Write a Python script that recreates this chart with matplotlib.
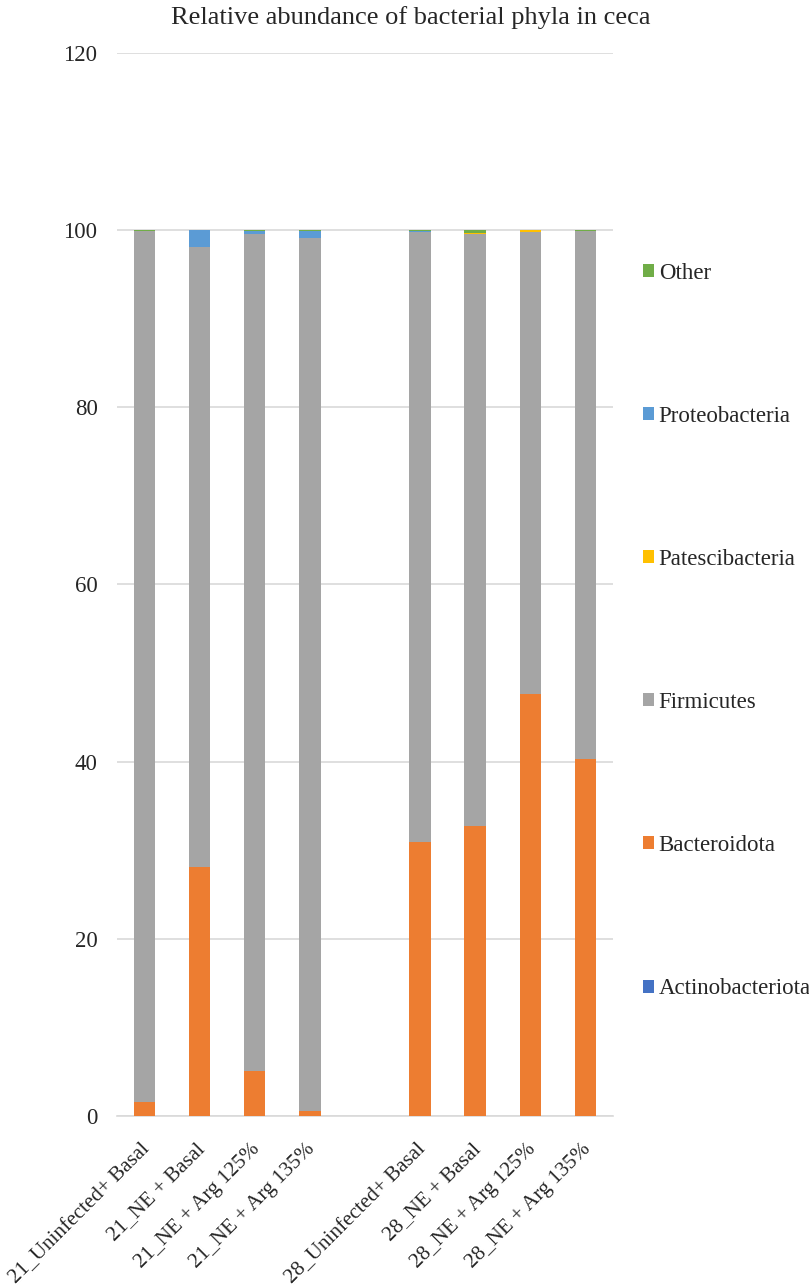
import numpy as np
import matplotlib
matplotlib.use("Agg")
import matplotlib.pyplot as plt
import matplotlib.transforms as mtransforms

plt.rcParams['font.family'] = ['Liberation Serif', 'DejaVu Serif']

# categories (blank slot = gap between day 21 and day 28)
groups = ['21_Uninfected+ Basal', '21_NE + Basal', '21_NE + Arg 125%', '21_NE + Arg 135%', '',
          '28_Uninfected+ Basal', '28_NE + Basal', '28_NE + Arg 125%', '28_NE + Arg 135%']

# relative abundance (%) per phylum
actinobacteriota = [0.05, 0.02, 0.02, 0.01, 0, 0.02, 0.03, 0.02, 0.02]
bacteroidota     = [1.5, 28.1, 5.1, 0.6, 0, 30.9, 32.7, 47.6, 40.3]
firmicutes       = [98.3, 70.0, 94.5, 98.5, 0, 68.88, 66.8, 52.2, 59.55]
patescibacteria  = [0.0, 0.0, 0.0, 0.0, 0, 0.02, 0.12, 0.15, 0.03]
proteobacteria   = [0.05, 1.85, 0.33, 0.85, 0, 0.03, 0.05, 0.01, 0.02]
other            = [0.1, 0.03, 0.05, 0.04, 0, 0.15, 0.3, 0.02, 0.08]

series = [('Actinobacteriota', actinobacteriota, '#4472C4'),
          ('Bacteroidota', bacteroidota, '#ED7D31'),
          ('Firmicutes', firmicutes, '#A5A5A5'),
          ('Patescibacteria', patescibacteria, '#FFC000'),
          ('Proteobacteria', proteobacteria, '#5B9BD5'),
          ('Other', other, '#70AD47')]

fig = plt.figure(figsize=(8.09, 12.86), dpi=100)
ax = fig.add_axes([0.1446, 0.1322, 0.613, 0.8266])

x = np.arange(len(groups))
bottom = np.zeros(len(groups))
handles = []
for name, vals, col in series:
    vals = np.array(vals, dtype=float)
    b = ax.bar(x, vals, width=0.39, bottom=bottom, color=col, label=name, zorder=3)
    handles.append(b)
    bottom += vals

ax.set_xlim(-0.5, len(groups) - 0.5)
ax.set_ylim(0, 120)
ax.set_yticks(np.arange(0, 121, 20))
ax.yaxis.grid(True, color='#D9D9D9', linewidth=1.2, zorder=0)
ax.set_axisbelow(True)
for s in ['left', 'right', 'top']:
    ax.spines[s].set_visible(False)
ax.spines['bottom'].set_color('#D9D9D9')
ax.spines['bottom'].set_linewidth(1.2)
ax.tick_params(axis='both', length=0, labelsize=16.5, labelcolor='#262626')
ax.tick_params(axis='y', pad=14)
ax.tick_params(axis='x', pad=10, labelsize=15.2)
ax.set_xticks(x)
ax.set_xticklabels(groups, rotation=45, ha='right', rotation_mode='anchor')
shift = mtransforms.ScaledTranslation(-0.04, -0.10, fig.dpi_scale_trans)
for lab in ax.get_xticklabels():
    lab.set_transform(lab.get_transform() + shift)

fig.text(0.508, 0.986, 'Relative abundance of bacterial phyla in ceca',
         ha='center', va='center', fontsize=19, color='#262626')

leg = fig.legend(handles[::-1], [s[0] for s in series][::-1],
                 loc='upper left', bbox_to_anchor=(0.783, 0.803),
                 frameon=False, fontsize=16.5, handlelength=0.5, handleheight=0.5,
                 handletextpad=0.2, labelspacing=5.33, borderaxespad=0)
for t in leg.get_texts():
    t.set_color('#262626')

fig.savefig('out.png', dpi=100)
